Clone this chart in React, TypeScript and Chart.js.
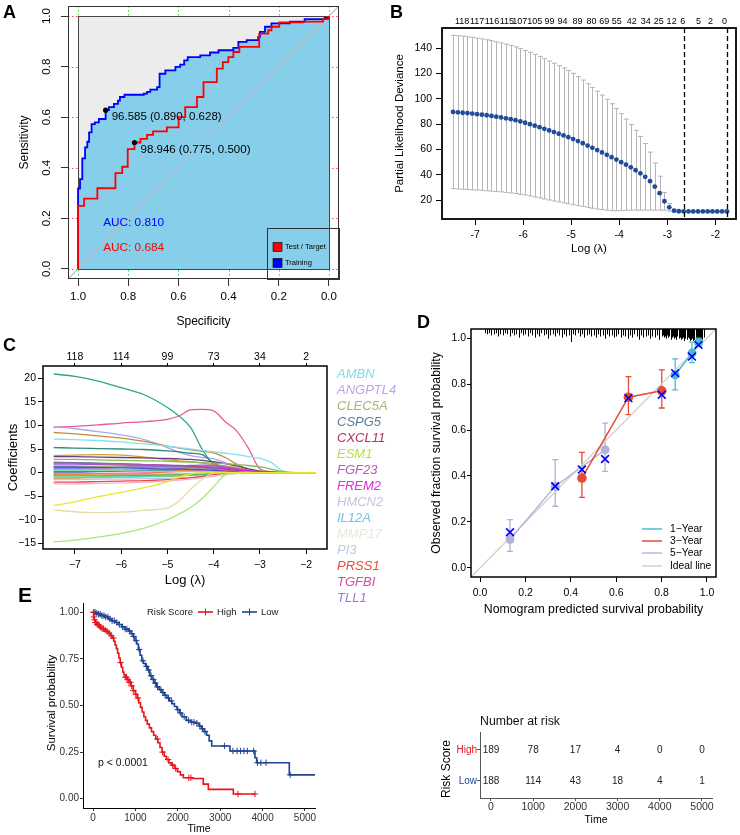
import React, { useEffect, useRef } from 'react';
import { Chart, registerables } from 'chart.js';

Chart.register(...registerables);

const FONT = "'Liberation Sans', Arial, Helvetica, sans-serif";
const PW = 740;
const PH = 835;

/* ================= A : ROC ================= */
const rocTicks = [0, 0.2, 0.4, 0.6, 0.8, 1.0];
const trainSpec = [1.0, 1.0, 0.992, 0.983, 0.972, 0.963, 0.956, 0.946, 0.933, 0.917, 0.89, 0.877, 0.857, 0.841, 0.833, 0.815, 0.738, 0.725, 0.712, 0.685, 0.675, 0.652, 0.612, 0.593, 0.577, 0.563, 0.513, 0.474, 0.44, 0.381, 0.361, 0.328, 0.282, 0.275, 0.255, 0.229, 0.156, 0.097, 0.017, 0.0];
const trainSens = [0, 0.318, 0.355, 0.437, 0.481, 0.503, 0.54, 0.573, 0.58, 0.593, 0.628, 0.64, 0.653, 0.666, 0.68, 0.689, 0.693, 0.7, 0.709, 0.719, 0.772, 0.785, 0.799, 0.808, 0.825, 0.838, 0.845, 0.856, 0.865, 0.874, 0.898, 0.905, 0.918, 0.938, 0.958, 0.971, 0.978, 0.988, 0.993, 1.0];
const testSpec = [1.0, 1.0, 0.976, 0.923, 0.851, 0.824, 0.802, 0.775, 0.751, 0.725, 0.701, 0.646, 0.599, 0.573, 0.526, 0.5, 0.447, 0.423, 0.401, 0.381, 0.357, 0.278, 0.242, 0.229, 0.198, 0.103, 0.024, 0.0];
const testSens = [0, 0.249, 0.278, 0.319, 0.379, 0.404, 0.474, 0.5, 0.514, 0.53, 0.544, 0.56, 0.6, 0.64, 0.68, 0.739, 0.792, 0.818, 0.838, 0.858, 0.878, 0.931, 0.944, 0.958, 0.975, 0.978, 0.988, 1.0];
const cutSpec = [0.89, 0.775];
const cutSens = [0.628, 0.5];
const cutLabels = ['96.585 (0.890, 0.628)', '98.946 (0.775, 0.500)'];
const aucLabels = ['AUC: 0.810', 'AUC: 0.684'];
const rocSeries = ['Test / Target', 'Training'];

/* ================= B : CV deviance ================= */
const lamTicks = [-7, -6, -5, -4, -3, -2];
const lamB = [-7.46, -7.36, -7.26, -7.16, -7.06, -6.96, -6.86, -6.76, -6.66, -6.56, -6.46, -6.36, -6.26, -6.16, -6.06, -5.96, -5.86, -5.76, -5.66, -5.56, -5.46, -5.36, -5.26, -5.16, -5.06, -4.96, -4.86, -4.76, -4.66, -4.56, -4.46, -4.36, -4.26, -4.16, -4.06, -3.96, -3.86, -3.76, -3.66, -3.56, -3.46, -3.36, -3.26, -3.16, -3.06, -2.96, -2.86, -2.76, -2.66, -2.56, -2.46, -2.36, -2.26, -2.16, -2.06, -1.96, -1.86, -1.76];
const meanB = [89.5, 89.2, 88.9, 88.6, 88.2, 87.8, 87.4, 86.9, 86.4, 85.8,
  85.2, 84.5, 83.8, 83.0, 82.0, 81.0, 79.9, 78.7, 77.5, 76.2,
  74.9, 73.6, 72.3, 71.0, 69.6, 68.1, 66.5, 64.8, 63.0, 61.2,
  59.4, 57.6, 55.7, 53.8, 51.9, 49.9, 47.9, 45.8, 43.5, 41.1,
  38.3, 34.9, 30.6, 25.4, 19.0, 14.2, 11.6, 11.1, 11.0, 11.0,
  11.0, 11.0, 11.0, 11.0, 11.0, 11.0, 11.0, 11.0];
const sdB = [60.5, 60.5, 60.4, 60.3, 60.2, 60.0, 59.8, 59.6, 59.4, 59.1,
  58.8, 58.5, 58.2, 57.9, 57.5, 57.1, 56.7, 56.3, 55.9, 55.4,
  54.9, 54.4, 53.8, 53.2, 52.6, 51.9, 50.9, 49.9, 48.8, 47.7,
  46.5, 45.2, 43.8, 42.2, 40.4, 38.3, 36.0, 33.8, 31.5, 29.1,
  26.3, 22.9, 18.6, 13.4, 7.0, 3.0, 1.0, 0.6, 0.5, 0.5,
  0.5, 0.5, 0.5, 0.5, 0.5, 0.5, 0.5, 0.5];
const devTicks = [20, 40, 60, 80, 100, 120, 140];
const nzPosB = [-7.27, -6.96, -6.65, -6.34, -6.07, -5.76, -5.45, -5.18, -4.87, -4.58, -4.31, -4.05, -3.74, -3.45, -3.18, -2.91, -2.68, -2.35, -2.10, -1.81];
const nzB = [118, 117, 116, 115, 107, 105, 99, 94, 89, 80, 69, 55, 42, 34, 25, 12, 6, 5, 2, 0];
const lambdaSel = [-2.66, -1.76];

/* ================= C : coefficient paths ================= */
const lamC = [-7.46, -7.0, -6.5, -6.0, -5.5, -5.0, -4.75, -4.5, -4.25, -4.0, -3.75, -3.5, -3.25, -3.0, -2.75, -2.5, -2.25, -2.0, -1.79];
const coefTicks = [-15, -10, -5, 0, 5, 10, 15, 20];
const nzC = [118, 114, 99, 73, 34, 2];
const coefTeal = [20.9, 20.4, 19.4, 18.0, 16.5, 13.8, 12.0, 9.6, 5.0, 1.7, 0.8, 0.3, 0.1, 0, 0, 0, 0, 0, 0];
const coefPink = [9.6, 9.8, 10.1, 10.5, 10.8, 11.3, 12.0, 13.3, 13.4, 13.1, 10.8, 8.8, 5.2, 0.8, 0.2, 0.05, 0, 0, 0];
const coefLav = [9.7, 9.3, 8.7, 8.0, 7.0, 5.3, 4.3, 3.6, 3.2, 2.9, 2.1, 1.1, 0.4, 0.1, 0, 0, 0, 0, 0];
const coefBrown = [8.5, 8.2, 7.8, 7.3, 6.6, 5.6, 5.2, 4.8, 4.5, 4.2, 3.2, 1.8, 0.7, 0.2, 0.05, 0, 0, 0, 0];
const coefCyan = [7.1, 7.0, 6.8, 6.5, 6.1, 5.6, 5.3, 5.0, 4.7, 4.4, 4.1, 3.8, 3.4, 3.0, 2.1, 0.3, 0.05, 0, 0];
const coefDkTeal = [5.3, 5.2, 5.1, 5.0, 4.9, 4.6, 4.4, 4.1, 3.8, 2.0, 1.0, 0.4, 0.1, 0, 0, 0, 0, 0, 0];
const coefGold = [3.6, 3.7, 3.8, 3.7, 3.3, 2.7, 2.5, 2.3, 2.0, 1.7, 1.4, 1.0, 0.6, 0.3, 0.1, 0, 0, 0, 0];
const coefPurple = [3.4, 3.4, 3.3, 3.2, 3.1, 3.0, 2.9, 2.8, 2.6, 2.3, 1.9, 1.4, 0.8, 0.3, 0.1, 0, 0, 0, 0];
const coefGreen = [2.8, 2.8, 2.7, 2.6, 2.5, 2.4, 2.3, 2.2, 2.1, 2.0, 1.9, 1.7, 1.5, 1.2, 0.7, 0.2, 0, 0, 0];
const coefSteel = [2.2, 2.1, 2.0, 1.9, 1.7, 1.5, 1.4, 1.3, 1.1, 0.9, 0.6, 0.3, 0.1, 0, 0, 0, 0, 0, 0];
const coefViolet = [1.8, 1.8, 1.7, 1.6, 1.5, 1.4, 1.4, 1.5, 1.6, 1.5, 1.2, 0.8, 0.4, 0.1, 0, 0, 0, 0, 0];
const coefPlum = [2.0, 2.0, 1.9, 1.8, 1.7, 1.6, 1.5, 1.4, 1.3, 1.2, 1.0, 0.8, 0.5, 0.2, 0, 0, 0, 0, 0];
const coefMagenta = [0.3, 0.3, 0.3, 0.4, 0.5, 0.7, 0.8, 0.9, 1.0, 1.0, 0.9, 0.6, 0.3, 0.1, 0, 0, 0, 0, 0];
const coefCrimson = [1.0, 1.0, 1.0, 1.1, 1.2, 1.3, 1.3, 1.2, 1.1, 0.9, 0.6, 0.3, 0.1, 0, 0, 0, 0, 0, 0];
const coefOlive = [1.4, 1.4, 1.3, 1.3, 1.2, 1.1, 1.0, 0.9, 0.8, 0.6, 0.4, 0.2, 0, 0, 0, 0, 0, 0, 0];
const coefBlue2 = [0.8, 0.9, 1.0, 1.1, 1.2, 1.2, 1.2, 1.1, 1.0, 0.8, 0.5, 0.2, 0, 0, 0, 0, 0, 0, 0];
const coefSky = [0.6, 0.6, 0.6, 0.6, 0.6, 0.5, 0.5, 0.5, 0.4, 0.3, 0.2, 0.1, 0, 0, 0, 0, 0, 0, 0];
const coefOrange = [-0.4, -0.4, -0.3, -0.3, -0.2, 0.2, 0.4, 0.6, 0.7, 0.6, 0.4, 0.2, 0.1, 0, 0, 0, 0, 0, 0];
const coefAqua = [-1.0, -1.0, -0.9, -0.9, -0.8, -0.7, -0.6, -0.5, -0.4, -0.3, -0.2, -0.1, 0, 0, 0, 0, 0, 0, 0];
const coefLime = [-0.7, -0.7, -0.7, -0.6, -0.6, -0.5, -0.5, -0.4, -0.3, -0.2, -0.1, 0, 0, 0, 0, 0, 0, 0, 0];
const coefGrey = [-1.5, -1.5, -1.4, -1.4, -1.3, -1.2, -1.1, -1.0, -0.9, -0.7, -0.4, -0.2, 0, 0, 0, 0, 0, 0, 0];
const coefRed = [-2.0, -2.0, -1.9, -1.8, -1.7, -1.5, -1.3, -1.1, -0.8, -0.4, -0.1, 0, 0, 0, 0, 0, 0, 0, 0];
const coefRose = [-2.4, -2.4, -2.3, -2.2, -2.0, -1.8, -1.6, -1.4, -1.1, -0.8, -0.4, -0.1, 0, 0, 0, 0, 0, 0, 0];
const coefYellow = [-7.0, -6.2, -5.1, -4.2, -3.2, -1.9, -1.0, -0.3, -0.1, 0, 0, 0, 0, 0, 0, 0, 0, 0, 0];
const coefBeige = [-7.9, -8.3, -8.5, -8.4, -8.0, -7.5, -6.0, -3.6, -1.4, -0.1, 0, 0, 0, 0, 0, 0, 0, 0, 0];
const coefLtGreen = [-14.7, -14.3, -13.7, -12.9, -11.8, -10.0, -8.8, -7.4, -5.5, -3.0, -0.5, -0.1, 0, 0, 0, 0, 0, 0, 0];
const coefPink2 = [-0.2, -0.2, -0.2, -0.1, 0, 0.1, 0.2, 0.3, 0.4, 0.4, 0.3, 0.2, 0.1, 0, 0, 0, 0, 0, 0];
const coefNavy = [0.1, 0.1, 0.2, 0.3, 0.4, 0.5, 0.5, 0.6, 0.6, 0.5, 0.4, 0.2, 0.1, 0, 0, 0, 0, 0, 0];
const coefMint = [0.5, 0.5, 0.4, 0.4, 0.3, 0.3, 0.2, 0.2, 0.2, 0.1, 0.1, 0, 0, 0, 0, 0, 0, 0, 0];
const coefCoral = [-0.6, -0.6, -0.5, -0.5, -0.4, -0.3, -0.3, -0.2, -0.1, 0, 0, 0, 0, 0, 0, 0, 0, 0, 0];
const coefIndigo = [1.2, 1.2, 1.1, 1.0, 0.9, 0.8, 0.8, 0.7, 0.6, 0.5, 0.3, 0.1, 0, 0, 0, 0, 0, 0, 0];
const coefTan = [-1.2, -1.2, -1.1, -1.0, -0.9, -0.8, -0.7, -0.6, -0.5, -0.3, -0.1, 0, 0, 0, 0, 0, 0, 0, 0];
const coefPaths = [
  [coefYellow, '#e9e62e'], [coefBeige, '#e6dcaa'], [coefLtGreen, '#a6e87a'], [coefRose, '#f2b6cc'],
  [coefRed, '#f24444'], [coefGrey, '#c3c3da'], [coefLime, '#44c444'], [coefAqua, '#3fe0c2'],
  [coefTan, '#c8b080'], [coefCoral, '#f4a070'], [coefMint, '#7de0a0'], [coefIndigo, '#5050c0'],
  [coefOrange, '#f0822e'], [coefPink2, '#ff7fbf'], [coefNavy, '#4a5fb0'], [coefSky, '#72c2e2'],
  [coefBlue2, '#7c7cf5'], [coefOlive, '#a9b872'], [coefCrimson, '#b23252'], [coefMagenta, '#e024e0'],
  [coefPlum, '#b352b3'], [coefViolet, '#9a5bd6'], [coefSteel, '#5b7b9b'], [coefGreen, '#86bd4e'],
  [coefPurple, '#6b3b8c'], [coefGold, '#d2a12a'], [coefDkTeal, '#2b8c7e'], [coefCyan, '#84e1ef'],
  [coefBrown, '#c48a3c'], [coefLav, '#a9a9f0'], [coefPink, '#e75aa0'], [coefTeal, '#2ca58d'],
];
const genesC = ['AMBN', 'ANGPTL4', 'CLEC5A', 'CSPG5', 'CXCL11', 'ESM1', 'FGF23', 'FREM2', 'HMCN2', 'IL12A', 'MMP17', 'PI3', 'PRSS1', 'TGFBI', 'TLL1'];
const geneColors = ['#7fdde8', '#c39ff0', '#a9b56f', '#5d7d9a', '#b4345a', '#b7e04a', '#b45ab8', '#e626e6', '#c5c3dc', '#74c3e6', '#e6e9dc', '#b9cbe3', '#ee4a3a', '#d548a8', '#a277e3'];

/* ================= D : calibration ================= */
const calTicks = [0, 0.2, 0.4, 0.6, 0.8, 1.0];
const cal1x = [0.86, 0.934, 0.963];
const cal1y = [0.84, 0.935, 0.98];
const cal1lo = [0.775, 0.894, 0.962];
const cal1hi = [0.91, 0.983, 1.0];
const cal3x = [0.449, 0.654, 0.801];
const cal3y = [0.391, 0.743, 0.771];
const cal3lo = [0.307, 0.667, 0.696];
const cal3hi = [0.503, 0.833, 0.862];
const cal5x = [0.132, 0.331, 0.551];
const cal5y = [0.123, 0.355, 0.514];
const cal5lo = [0.072, 0.268, 0.42];
const cal5hi = [0.21, 0.471, 0.63];
const biasX = [0.132, 0.331, 0.449, 0.551, 0.654, 0.801, 0.86, 0.934, 0.963];
const biasY = [0.155, 0.355, 0.428, 0.474, 0.739, 0.754, 0.848, 0.92, 0.971];
const calLabels = ['1\u2212Year', '3\u2212Year', '5\u2212Year', 'Ideal line'];
const rugX = [0.02, 0.03, 0.04, 0.05, 0.06, 0.07, 0.08, 0.09, 0.10, 0.11,
  0.12, 0.13, 0.14, 0.15, 0.16, 0.17, 0.18, 0.19, 0.20, 0.21,
  0.22, 0.23, 0.24, 0.25, 0.26, 0.27, 0.28, 0.29, 0.30, 0.31,
  0.32, 0.33, 0.34, 0.35, 0.36, 0.37, 0.38, 0.39, 0.40, 0.41,
  0.42, 0.43, 0.44, 0.45, 0.46, 0.47, 0.48, 0.49, 0.50, 0.51,
  0.52, 0.53, 0.54, 0.55, 0.56, 0.57, 0.58, 0.59, 0.60, 0.61,
  0.62, 0.63, 0.64, 0.65, 0.66, 0.67, 0.68, 0.69, 0.70, 0.71,
  0.72, 0.73, 0.74, 0.75, 0.76, 0.77, 0.78, 0.79, 0.80, 0.805,
  0.81, 0.815, 0.82, 0.825, 0.83, 0.835, 0.84, 0.845, 0.85, 0.855,
  0.86, 0.865, 0.87, 0.875, 0.88, 0.885, 0.89, 0.895, 0.90, 0.905,
  0.91, 0.915, 0.92, 0.925, 0.93, 0.935, 0.94, 0.945, 0.95, 0.955,
  0.96, 0.965, 0.97, 0.975, 0.98, 0.985];
const rugN = [2, 3, 2, 4, 3, 2, 5, 3, 4, 2,
  3, 5, 2, 4, 3, 6, 2, 4, 3, 5,
  2, 4, 6, 3, 5, 2, 4, 3, 7, 4,
  3, 5, 2, 4, 6, 3, 5, 4, 10, 3,
  4, 2, 5, 3, 6, 4, 3, 5, 4, 6,
  3, 5, 4, 7, 3, 5, 4, 6, 5, 3,
  6, 4, 5, 7, 4, 6, 3, 5, 8, 4,
  6, 5, 4, 7, 5, 6, 4, 8, 5, 4,
  6, 5, 7, 4, 6, 5, 8, 6, 5, 7,
  6, 8, 5, 7, 6, 8, 7, 6, 9, 7,
  8, 6, 7, 9, 8, 7, 9, 8, 7, 9,
  8, 9, 8, 7, 8, 6];

/* ================= E : Kaplan-Meier ================= */
const timeTicks = [0, 1000, 2000, 3000, 4000, 5000];
const survTicks = [0, 0.25, 0.5, 0.75, 1.0];
const highT = [0, 15, 30, 50, 90, 130, 170, 210, 260, 310, 360, 410, 450, 490, 520, 550, 580, 610, 640, 670, 700, 730, 760, 800, 850, 900, 950, 1000, 1040, 1080, 1120, 1160, 1200, 1240, 1280, 1330, 1380, 1430, 1480, 1530, 1580, 1630, 1680, 1730, 1790, 1850, 1920, 1990, 2060, 2130, 2360, 2600, 2720, 3310, 3830];
const highS = [1.0, 0.975, 0.96, 0.945, 0.935, 0.928, 0.92, 0.912, 0.905, 0.897, 0.888, 0.875, 0.862, 0.845, 0.825, 0.805, 0.78, 0.755, 0.73, 0.705, 0.68, 0.665, 0.652, 0.64, 0.625, 0.605, 0.58, 0.56, 0.54, 0.515, 0.49, 0.465, 0.44, 0.42, 0.4, 0.38, 0.36, 0.34, 0.32, 0.3, 0.275, 0.25, 0.228, 0.21, 0.192, 0.18, 0.162, 0.145, 0.128, 0.112, 0.108, 0.078, 0.05, 0.025, 0.025];
const lowT = [0, 60, 120, 200, 280, 360, 440, 520, 600, 680, 760, 840, 900, 950, 990, 1030, 1070, 1110, 1150, 1190, 1240, 1290, 1340, 1390, 1440, 1500, 1560, 1620, 1680, 1740, 1800, 1860, 1920, 1980, 2040, 2100, 2200, 2300, 2420, 2500, 2560, 2620, 2680, 2740, 2800, 3230, 3820, 3860, 4630, 5240];
const lowS = [1.0, 0.995, 0.99, 0.982, 0.975, 0.965, 0.955, 0.945, 0.935, 0.922, 0.91, 0.9, 0.885, 0.87, 0.848, 0.83, 0.8, 0.77, 0.74, 0.725, 0.71, 0.69, 0.66, 0.64, 0.62, 0.6, 0.585, 0.57, 0.555, 0.54, 0.525, 0.51, 0.495, 0.478, 0.46, 0.44, 0.42, 0.41, 0.405, 0.39, 0.375, 0.36, 0.34, 0.31, 0.283, 0.256, 0.22, 0.193, 0.128, 0.128];
const censHigh = [8, 20, 35, 55, 75, 100, 125, 150, 180, 215, 250, 290, 335, 380, 430, 480, 650, 760, 790, 820, 850, 880, 910, 950, 1010, 1060, 1520, 1640, 1770, 1880, 1950, 2260, 2310, 3420, 3820];
const censLow = [20, 50, 90, 130, 170, 210, 260, 300, 350, 400, 450, 500, 560, 620, 700, 760, 800, 860, 920, 960, 1020, 1090, 1180, 1260, 1310, 1370, 1420, 1470, 1520, 1600, 1650, 1700, 1780, 1850, 2000, 2060, 2150, 2250, 2330, 2380, 2450, 2520, 2580, 2640, 3100, 3300, 3400, 3480, 3560, 3640, 3790, 3880, 3960, 4080, 4650];
const groupNames = ['High', 'Low'];
const riskTimes = [0, 1000, 2000, 3000, 4000, 5000];
const riskHigh = [189, 78, 17, 4, 0, 0];
const riskLow = [188, 114, 43, 18, 4, 1];

const RED_E = '#e8141b';
const BLUE_E = '#1e4391';

/* ================= helpers ================= */
const xy = (xs: number[], ys: number[]) => xs.map((x, i) => ({ x, y: ys[i] }));
const survAt = (ts: number[], ss: number[], t: number) => {
  let v = ss[0];
  for (let i = 0; i < ts.length; i++) if (ts[i] <= t) v = ss[i];
  return v;
};

function txt(ctx: any, s: string, x: number, y: number, size: number, o: any = {}) {
  ctx.save();
  ctx.font = `${o.italic ? 'italic ' : ''}${o.bold ? 'bold ' : ''}${size}px ${FONT}`;
  ctx.fillStyle = o.color || '#000';
  ctx.textAlign = o.align || 'left';
  ctx.textBaseline = o.base || 'middle';
  ctx.translate(x, y);
  if (o.rot) ctx.rotate(o.rot);
  ctx.fillText(s, 0, 0);
  ctx.restore();
}
function seg(ctx: any, x1: number, y1: number, x2: number, y2: number) {
  ctx.beginPath();
  ctx.moveTo(x1, y1);
  ctx.lineTo(x2, y2);
  ctx.stroke();
}
function frame(ctx: any, ca: any, w: number, color = '#000') {
  ctx.save();
  ctx.strokeStyle = color;
  ctx.lineWidth = w;
  ctx.strokeRect(ca.left, ca.top, ca.right - ca.left, ca.bottom - ca.top);
  ctx.restore();
}
const ROT = -Math.PI / 2;

function lin(o: any) {
  const vertical = o.position === 'left' || o.position === 'right';
  const tl = o.tl || 0;
  return {
    type: 'linear',
    position: o.position,
    min: o.min,
    max: o.max,
    reverse: !!o.reverse,
    afterBuildTicks: (s: any) => {
      s.ticks = o.ticks.map((v: number) => ({ value: v }));
    },
    afterFit: (s: any) => {
      if (vertical) {
        s.width = o.size;
        s.paddingTop = 0;
        s.paddingBottom = 0;
      } else {
        s.height = o.size;
        s.paddingLeft = 0;
        s.paddingRight = 0;
      }
    },
    ticks: {
      display: o.labels !== false,
      autoSkip: false,
      maxRotation: 0,
      minRotation: 0,
      padding: o.pad ?? 3,
      color: o.color || '#000',
      font: { family: FONT, size: o.font || 10 },
      callback: o.fmt || ((v: number) => String(v)),
    },
    grid: { display: tl > 0, drawOnChartArea: false, drawTicks: tl > 0, tickLength: tl, color: o.tickColor || '#000', lineWidth: 1 },
    border: { display: !!o.line, color: o.lineColor || '#000', width: 1 },
  };
}

function opts(fr: any, sizes: any, scales: any) {
  return {
    responsive: false,
    animation: false,
    devicePixelRatio: 1,
    events: [],
    layout: {
      padding: {
        left: fr.l - (sizes.left || 0),
        right: PW - fr.r - (sizes.right || 0),
        top: fr.t - (sizes.top || 0),
        bottom: PH - fr.b - (sizes.bottom || 0),
      },
    },
    plugins: { legend: { display: false }, tooltip: { enabled: false } },
    scales,
  };
}

/* ================= A config ================= */
function configA() {
  const lo = -0.04;
  const hi = 1.04;
  const plugin = {
    id: 'decorA',
    beforeDatasetsDraw(chart: any) {
      const { ctx, chartArea: ca, scales } = chart;
      const { x, y } = scales;
      ctx.save();
      ctx.lineWidth = 1;
      ctx.setLineDash([1.5, 2.5]);
      ctx.strokeStyle = '#3fd43f';
      rocTicks.forEach((v) => {
        const p = Math.round(x.getPixelForValue(v)) + 0.5;
        seg(ctx, p, ca.top, p, ca.bottom);
      });
      ctx.strokeStyle = '#ff4d4d';
      rocTicks.forEach((v) => {
        const p = Math.round(y.getPixelForValue(v)) + 0.5;
        seg(ctx, ca.left, p, ca.right, p);
      });
      ctx.setLineDash([]);
      const x1 = x.getPixelForValue(1), x0 = x.getPixelForValue(0);
      const y1 = y.getPixelForValue(1), y0 = y.getPixelForValue(0);
      ctx.fillStyle = '#ececec';
      ctx.fillRect(x1, y1, x0 - x1, y0 - y1);
      ctx.restore();
    },
    afterDatasetDraw(chart: any, args: any) {
      if (args.index !== 0) return;
      const { ctx, scales } = chart;
      const { x, y } = scales;
      const x1 = Math.round(x.getPixelForValue(1)) + 0.5, x0 = Math.round(x.getPixelForValue(0)) + 0.5;
      const y1 = Math.round(y.getPixelForValue(1)) + 0.5, y0 = Math.round(y.getPixelForValue(0)) + 0.5;
      ctx.save();
      ctx.strokeStyle = '#444';
      ctx.lineWidth = 1;
      ctx.strokeRect(x1, y1, x0 - x1, y0 - y1);
      ctx.restore();
    },
    afterDatasetsDraw(chart: any) {
      const { ctx, chartArea: ca, scales } = chart;
      const { x, y } = scales;
      frame(ctx, { left: ca.left + 0.5, top: ca.top + 0.5, right: ca.right - 0.5, bottom: ca.bottom - 0.5 }, 1, '#333');
      cutSpec.forEach((s, i) => {
        txt(ctx, cutLabels[i], x.getPixelForValue(s) + 6, y.getPixelForValue(cutSens[i]) + 7, 11.5);
      });
      txt(ctx, aucLabels[0], x.getPixelForValue(0.9), y.getPixelForValue(0.183), 11.8, { color: '#0000ff' });
      txt(ctx, aucLabels[1], x.getPixelForValue(0.9), y.getPixelForValue(0.084), 11.8, { color: '#ff0000' });
      const lw = 72, lh = 51;
      const lx = Math.round(ca.right - lw) + 0.5, ly = Math.round(ca.bottom - lh) + 0.5;
      ctx.save();
      ctx.strokeStyle = '#333';
      ctx.lineWidth = 1;
      ctx.strokeRect(lx, ly, lw, lh);
      [['#ff0000', 14], ['#0000ff', 30]].forEach(([c, dy]: any, i) => {
        ctx.fillStyle = c;
        ctx.fillRect(lx + 5.5, ly + dy, 9, 9);
        ctx.lineWidth = 0.6;
        ctx.strokeStyle = '#000';
        ctx.strokeRect(lx + 5.5, ly + dy, 9, 9);
        txt(ctx, rocSeries[i], lx + 17.5, ly + dy + 4.5, 7.5);
      });
      ctx.restore();
      rocTicks.forEach((v) => txt(ctx, v.toFixed(1), 47, y.getPixelForValue(v), 11.5, { align: 'center', rot: ROT }));
      txt(ctx, 'Sensitivity', 25, (ca.top + ca.bottom) / 2, 12, { align: 'center', rot: ROT });
      txt(ctx, 'Specificity', (ca.left + ca.right) / 2, 322, 12, { align: 'center' });
      txt(ctx, 'A', 3, 18, 18, { bold: true, base: 'alphabetic' });
    },
  };
  const fr = { l: 68, t: 6, r: 339, b: 279 };
  return {
    type: 'line',
    data: {
      datasets: [
        { data: xy(trainSpec, trainSens), stepped: 'before', fill: 'origin', backgroundColor: '#87ceeb', borderColor: 'rgba(0,0,0,0)', borderWidth: 1, pointRadius: 0, order: 5 },
        { data: [{ x: hi, y: 1 - hi }, { x: lo, y: 1 - lo }], borderColor: '#bdbdbd', borderWidth: 1.2, pointRadius: 0, fill: false, order: 4 },
        { data: xy(trainSpec, trainSens), stepped: 'before', borderColor: '#0000ff', borderWidth: 1.8, pointRadius: 0, fill: false, order: 3 },
        { data: xy(testSpec, testSens), stepped: 'before', borderColor: '#ff0000', borderWidth: 1.8, pointRadius: 0, fill: false, order: 2 },
        { data: xy(cutSpec, cutSens), showLine: false, pointRadius: 2.6, pointBackgroundColor: '#000', pointBorderWidth: 0, order: 1 },
      ],
    },
    options: opts(fr, { left: 15, bottom: 40 }, {
      x: lin({ position: 'bottom', min: lo, max: hi, reverse: true, ticks: rocTicks, tl: 7, pad: 4, font: 11.5, size: 40, tickColor: '#333', fmt: (v: number) => v.toFixed(1) }),
      y: lin({ position: 'left', min: lo, max: hi, ticks: rocTicks, tl: 7, size: 15, labels: false, tickColor: '#333' }),
    }),
    plugins: [plugin],
  };
}

/* ================= B config ================= */
function configB() {
  const plugin = {
    id: 'decorB',
    beforeDatasetsDraw(chart: any) {
      const { ctx, scales } = chart;
      const { x, y } = scales;
      ctx.save();
      ctx.strokeStyle = '#b5b5b5';
      ctx.lineWidth = 1;
      lamB.forEach((l, i) => {
        const px = Math.round(x.getPixelForValue(l)) + 0.5;
        const t = y.getPixelForValue(meanB[i] + sdB[i]);
        const b = y.getPixelForValue(meanB[i] - sdB[i]);
        ctx.beginPath();
        ctx.moveTo(px, t);
        ctx.lineTo(px, b);
        ctx.moveTo(px - 2.5, t);
        ctx.lineTo(px + 2.5, t);
        ctx.moveTo(px - 2.5, b);
        ctx.lineTo(px + 2.5, b);
        ctx.stroke();
      });
      ctx.restore();
    },
    afterDatasetsDraw(chart: any) {
      const { ctx, chartArea: ca, scales } = chart;
      const { x } = scales;
      ctx.save();
      ctx.strokeStyle = '#000';
      ctx.lineWidth = 1.3;
      ctx.setLineDash([5, 3]);
      lambdaSel.forEach((l) => {
        const px = Math.round(x.getPixelForValue(l)) + 0.5;
        seg(ctx, px, ca.top, px, ca.bottom);
      });
      ctx.restore();
      frame(ctx, ca, 1.8);
      txt(ctx, 'Log (\u03bb)', (ca.left + ca.right) / 2, 249, 11.5, { align: 'center' });
      txt(ctx, 'Partial Likelihood Deviance', 400, (ca.top + ca.bottom) / 2, 11.5, { align: 'center', rot: ROT });
      txt(ctx, 'B', 390, 18, 18, { bold: true, base: 'alphabetic' });
    },
  };
  const fr = { l: 442, t: 28, r: 738, b: 219 };
  const xmin = -7.69, xmax = -1.57;
  return {
    type: 'line',
    data: {
      datasets: [
        { data: xy(lamB, meanB), showLine: false, pointRadius: 2.4, pointBackgroundColor: '#1f4b99', pointBorderWidth: 0 },
      ],
    },
    options: opts(fr, { left: 40, bottom: 40, top: 25 }, {
      x: lin({ position: 'bottom', min: xmin, max: xmax, ticks: lamTicks, tl: 6, pad: 4, font: 10.5, size: 40 }),
      x2: lin({ position: 'top', min: xmin, max: xmax, ticks: nzPosB, tl: 0, pad: 1, font: 9, size: 25, fmt: (v: number, i: number) => String(nzB[i]) }),
      y: lin({ position: 'left', min: 5.0, max: 155.8, ticks: devTicks, tl: 6, pad: 4, font: 10.5, size: 40 }),
    }),
    plugins: [plugin],
  };
}

/* ================= C config ================= */
function configC() {
  const plugin = {
    id: 'decorC',
    afterDatasetsDraw(chart: any) {
      const { ctx, chartArea: ca } = chart;
      frame(ctx, ca, 1.5);
      genesC.forEach((g, i) => txt(ctx, g, 337, 374 + i * 16, 13, { italic: true, color: geneColors[i] }));
      txt(ctx, 'Log (\u03bb)', (ca.left + ca.right) / 2, 580, 13, { align: 'center' });
      txt(ctx, 'Coefficients', 13, (ca.top + ca.bottom) / 2, 13, { align: 'center', rot: ROT });
      txt(ctx, 'C', 3, 351, 18, { bold: true, base: 'alphabetic' });
    },
  };
  const fr = { l: 43, t: 366, r: 327, b: 549 };
  const xmin = -7.69, xmax = -1.55;
  const minus = (v: number) => (v < 0 ? '\u2212' + Math.abs(v) : String(v));
  return {
    type: 'line',
    data: {
      datasets: coefPaths.map(([vals, color]: any) => ({
        data: xy(lamC, vals),
        borderColor: color,
        borderWidth: 1.3,
        pointRadius: 0,
        fill: false,
        cubicInterpolationMode: 'monotone',
      })),
    },
    options: opts(fr, { left: 40, bottom: 40, top: 25 }, {
      x: lin({ position: 'bottom', min: xmin, max: xmax, ticks: lamTicks, tl: 5, pad: 5, font: 10.5, size: 40, fmt: minus }),
      x2: lin({ position: 'top', min: xmin, max: xmax, ticks: lamTicks, tl: 3, pad: 0, font: 10.5, size: 25, fmt: (v: number, i: number) => String(nzC[i]) }),
      y: lin({ position: 'left', min: -16.2, max: 22.6, ticks: coefTicks, tl: 5, pad: 2, font: 10.5, size: 40, fmt: minus }),
    }),
    plugins: [plugin],
  };
}

/* ================= D config ================= */
function configD() {
  const C1 = '#4dbbd5', C3 = '#e64b35', C5 = '#b9b6df', CI = '#d3d3d3';
  const bars = [
    [cal1x, cal1lo, cal1hi, C1],
    [cal3x, cal3lo, cal3hi, C3],
    [cal5x, cal5lo, cal5hi, '#b3b0da'],
  ];
  const plugin = {
    id: 'decorD',
    beforeDatasetsDraw(chart: any) {
      const { ctx, chartArea: ca, scales } = chart;
      const { x, y } = scales;
      ctx.save();
      ctx.strokeStyle = '#000';
      ctx.lineWidth = 1;
      ctx.beginPath();
      rugX.forEach((v, i) => {
        const px = Math.round(x.getPixelForValue(v)) + 0.5;
        ctx.moveTo(px, ca.top);
        ctx.lineTo(px, ca.top + 2 + rugN[i] * 1.1);
      });
      ctx.stroke();
      ctx.lineWidth = 1.3;
      bars.forEach(([xs, los, his, c]: any) => {
        ctx.strokeStyle = c;
        xs.forEach((xv: number, i: number) => {
          const px = x.getPixelForValue(xv);
          const t = y.getPixelForValue(his[i]);
          const b = y.getPixelForValue(los[i]);
          ctx.beginPath();
          ctx.moveTo(px, t);
          ctx.lineTo(px, b);
          ctx.moveTo(px - 3, t);
          ctx.lineTo(px + 3, t);
          ctx.moveTo(px - 3, b);
          ctx.lineTo(px + 3, b);
          ctx.stroke();
        });
      });
      ctx.restore();
    },
    afterDatasetsDraw(chart: any) {
      const { ctx, chartArea: ca } = chart;
      frame(ctx, ca, 1.5);
      const cols = [C1, C3, C5, CI];
      const rows = [529, 541, 553, 566];
      ctx.save();
      ctx.lineWidth = 1.5;
      calLabels.forEach((l, i) => {
        ctx.strokeStyle = cols[i];
        seg(ctx, 642, rows[i], 662, rows[i]);
        txt(ctx, l, 670, rows[i], 10.3);
      });
      ctx.restore();
      txt(ctx, 'Observed fraction survival probability', 437, (ca.top + ca.bottom) / 2, 12.3, { align: 'center', rot: ROT });
      txt(ctx, 'Nomogram predicted survival probability', (ca.left + ca.right) / 2, 610, 12.3, { align: 'center' });
      txt(ctx, 'D', 417, 328, 18, { bold: true, base: 'alphabetic' });
    },
  };
  const fr = { l: 471, t: 329, r: 716, b: 577 };
  const lo = -0.04, hi = 1.04;
  return {
    type: 'line',
    data: {
      datasets: [
        { data: [{ x: lo, y: lo }, { x: hi, y: hi }], borderColor: CI, borderWidth: 1.5, pointRadius: 0, fill: false, order: 10 },
        { data: xy(cal5x, cal5y), borderColor: C5, borderWidth: 1.5, pointRadius: 4.5, pointBackgroundColor: '#b3b0da', pointBorderWidth: 0, fill: false, order: 5 },
        { data: xy(cal3x, cal3y), borderColor: C3, borderWidth: 1.5, pointRadius: 4.8, pointBackgroundColor: C3, pointBorderWidth: 0, fill: false, order: 4 },
        { data: xy(cal1x, cal1y), borderColor: C1, borderWidth: 1.5, pointRadius: 4.5, pointBackgroundColor: C1, pointBorderWidth: 0, fill: false, order: 3 },
        { data: xy(biasX, biasY), showLine: false, pointStyle: 'crossRot', pointRadius: 5.5, pointBorderColor: '#0000ff', pointBorderWidth: 1.6, order: 1 },
      ],
    },
    options: opts(fr, { left: 35, bottom: 40 }, {
      x: lin({ position: 'bottom', min: lo, max: hi, ticks: calTicks, tl: 5, pad: 5, font: 10.5, size: 40, fmt: (v: number) => v.toFixed(1) }),
      y: lin({ position: 'left', min: lo, max: hi, ticks: calTicks, tl: 4, pad: 1, font: 10.5, size: 35, fmt: (v: number) => v.toFixed(1) }),
    }),
    plugins: [plugin],
  };
}

/* ================= E config ================= */
function configE() {
  const plugin = {
    id: 'decorE',
    afterDatasetsDraw(chart: any) {
      const { ctx, chartArea: ca } = chart;
      txt(ctx, 'Risk Score', 147, 612, 9.5, { color: '#222' });
      ctx.save();
      ctx.lineWidth = 1.6;
      [[198, RED_E], [242, BLUE_E]].forEach(([lx, c]: any, i) => {
        ctx.strokeStyle = c;
        seg(ctx, lx, 612, lx + 15, 612);
        ctx.lineWidth = 1;
        seg(ctx, lx + 7.5, 608.5, lx + 7.5, 615.5);
        ctx.lineWidth = 1.6;
        txt(ctx, groupNames[i], lx + 19, 612, 9.5, { color: '#222' });
      });
      ctx.restore();
      txt(ctx, 'p < 0.0001', 98, 763, 10.5, { color: '#111' });
      txt(ctx, 'Survival probability', 52, 703, 11.5, { align: 'center', rot: ROT });
      txt(ctx, 'Time', (ca.left + ca.right) / 2, 829, 10.5, { align: 'center' });
      txt(ctx, 'E', 18, 602, 21, { bold: true, base: 'alphabetic' });
    },
  };
  const fr = { l: 83, t: 603, r: 315, b: 808 };
  return {
    type: 'line',
    data: {
      datasets: [
        { data: xy(highT, highS), stepped: 'before', borderColor: RED_E, borderWidth: 1.6, pointRadius: 0, fill: false },
        { data: xy(lowT, lowS), stepped: 'before', borderColor: BLUE_E, borderWidth: 1.6, pointRadius: 0, fill: false },
        { data: censHigh.map((t) => ({ x: t, y: survAt(highT, highS, t) })), showLine: false, pointStyle: 'cross', pointRadius: 3.2, pointBorderColor: RED_E, pointBorderWidth: 1 },
        { data: censLow.map((t) => ({ x: t, y: survAt(lowT, lowS, t) })), showLine: false, pointStyle: 'cross', pointRadius: 3.2, pointBorderColor: BLUE_E, pointBorderWidth: 1 },
      ],
    },
    options: opts(fr, { left: 35, bottom: 25 }, {
      x: lin({ position: 'bottom', min: -236, max: 5236, ticks: timeTicks, tl: 3, pad: 1, font: 10, size: 25, color: '#333', tickColor: '#333', line: true }),
      y: lin({ position: 'left', min: -0.05, max: 1.05, ticks: survTicks, tl: 3, pad: 1, font: 10, size: 35, color: '#333', tickColor: '#333', line: true, fmt: (v: number) => v.toFixed(2) }),
    }),
    plugins: [plugin],
  };
}

/* ================= risk table config ================= */
function configRisk() {
  const plugin = {
    id: 'decorRisk',
    afterDatasetsDraw(chart: any) {
      const { ctx, chartArea: ca, scales } = chart;
      const { x, y } = scales;
      riskTimes.forEach((t, i) => {
        txt(ctx, String(riskHigh[i]), x.getPixelForValue(t), y.getPixelForValue(2), 10, { align: 'center', color: '#222' });
        txt(ctx, String(riskLow[i]), x.getPixelForValue(t), y.getPixelForValue(1), 10, { align: 'center', color: '#222' });
      });
      txt(ctx, 'Number at risk', ca.left, 722, 12.3, { color: '#111' });
      txt(ctx, 'Risk Score', 447, 769, 12, { align: 'center', rot: ROT });
      txt(ctx, 'Time', (ca.left + ca.right) / 2, 820, 10.5, { align: 'center' });
    },
  };
  const fr = { l: 480, t: 732, r: 712, b: 798 };
  return {
    type: 'line',
    data: { datasets: [] },
    options: opts(fr, { left: 30, bottom: 25 }, {
      x: lin({ position: 'bottom', min: -260, max: 5237, ticks: riskTimes, tl: 3, pad: 0, font: 10.5, size: 25, color: '#333', tickColor: '#555', line: true, lineColor: '#555' }),
      y: lin({
        position: 'left', min: 0.45, max: 2.58, ticks: [1, 2], tl: 3, pad: 0, font: 10, size: 30, tickColor: '#555', line: true, lineColor: '#555',
        fmt: (v: number) => (v === 2 ? groupNames[0] : groupNames[1]),
        color: (c: any) => (c.tick && c.tick.value === 2 ? RED_E : BLUE_E),
      }),
    }),
    plugins: [plugin],
  };
}

function ChartCanvas({ make }: { make: () => any }) {
  const ref = useRef<HTMLCanvasElement | null>(null);
  useEffect(() => {
    const chart = new Chart(ref.current as HTMLCanvasElement, make());
    return () => chart.destroy();
  }, []);
  return (
    <canvas
      ref={ref}
      width={PW}
      height={PH}
      style={{ position: 'absolute', left: 0, top: 0, width: PW, height: PH }}
    />
  );
}

export default function App() {
  return (
    <div style={{ position: 'absolute', left: 0, top: 0, width: PW, height: PH, background: '#fff', overflow: 'hidden' }}>
      <ChartCanvas make={configA} />
      <ChartCanvas make={configB} />
      <ChartCanvas make={configC} />
      <ChartCanvas make={configD} />
      <ChartCanvas make={configE} />
      <ChartCanvas make={configRisk} />
    </div>
  );
}
